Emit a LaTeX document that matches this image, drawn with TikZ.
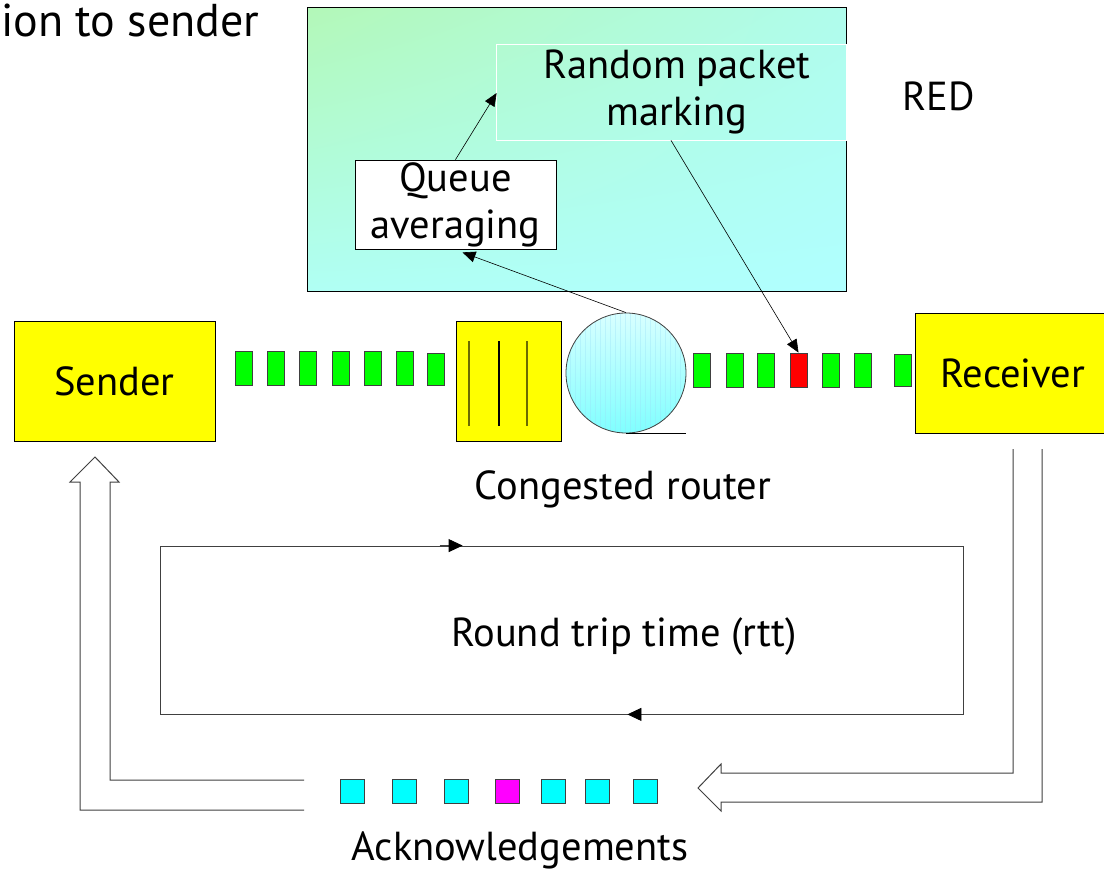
\documentclass[tikz,border=0pt]{standalone}
\usepackage{fontspec}
\setmainfont{PT Sans}
\usetikzlibrary{arrows.meta,calc,shadings}
\definecolor{pktgreen}{HTML}{00FF00}
\definecolor{pktred}{HTML}{FF0000}
\definecolor{ackcyan}{HTML}{00FFFF}
\definecolor{ackmag}{HTML}{FF00FF}
\definecolor{boxyellow}{HTML}{FFFF00}
\definecolor{redtl}{HTML}{B3F8B8}
\definecolor{redtr}{HTML}{B0FCEC}
\definecolor{redbl}{HTML}{B0FFF4}
\definecolor{redbr}{HTML}{B0FFFF}
\definecolor{edgegray}{HTML}{404040}
\definecolor{bufline}{HTML}{6B6B00}
\tikzset{
  big/.style={font=\fontsize{40.5}{47}\selectfont},
  ybox/.style={draw=black, fill=boxyellow, line width=0.8pt, inner sep=0pt},
  pkt/.style={draw=edgegray, line width=0.8pt, minimum width=17pt, minimum height=34pt, inner sep=0pt},
  ack/.style={draw=edgegray, line width=0.8pt, minimum width=24pt, minimum height=24pt, inner sep=0pt, fill=ackcyan},
  conn/.style={draw=black, line width=0.6pt, -{Triangle[length=13pt,width=11pt]}},
  tip/.style={draw=edgegray, line width=0.8pt, -{Triangle[length=14pt,width=13pt,color=black]}},
  hollow/.style={draw=edgegray, line width=1pt, line join=miter},
}
\begin{document}
\begin{tikzpicture}[x=1pt,y=-1pt]
\useasboundingbox (0,0) rectangle (1104,872);
\fill[white] (0,0) rectangle (1104,872);

% top-left title
\node[font=\fontsize{46}{52}\selectfont, anchor=base west, inner sep=0pt] (title) at (1,37) {ion to sender};

% RED box
\shade[upper left=redtl, upper right=redtr, lower left=redbl, lower right=redbr] (307,8) rectangle (846,291);
\node[draw=black, line width=1pt, minimum width=539pt, minimum height=283pt, inner sep=0pt] (redbox) at (576.5,149.5) {};
\node[draw=white, line width=0.8pt, minimum width=350pt, minimum height=96pt, inner sep=0pt, align=center, big] (rpm) at (671,92) {\hspace*{12pt}Random packet\\\hspace*{12pt}marking};
\node[big] (redlbl) at (939,96) {RED};
\node[draw=black, fill=white, line width=0.8pt, minimum width=201pt, minimum height=89pt, inner sep=0pt, align=center, big] (qa) at (455.5,204.5) {Queue\\averaging};

% Sender / Receiver
\node[ybox, minimum width=201pt, minimum height=120pt, big] (sender) at (114.5,381) {Sender};
\node[ybox, minimum width=190pt, minimum height=120pt, big] (receiver) at (1010,373) {\hspace*{6pt}Receiver};

% buffer
\node[ybox, minimum width=105pt, minimum height=120pt] (buf) at (508.5,381) {};
\draw[bufline, line width=1.2pt] (469,341) -- (469,426);
\draw[black, line width=1.2pt] (499,341) -- (499,426);
\draw[bufline, line width=1.2pt] (527,341) -- (527,426);

% router circle
\begin{scope}
  \clip (626,373) circle (60);
  \shade[top color=white!85!cyan, bottom color=cyan!50!white] (566,313) rectangle (686,433);
  \draw[cyan!40!white, opacity=0.35, line width=0.25pt, step=5] (566,313) grid (686,433);
\end{scope}
\node[draw=edgegray, circle, line width=0.8pt, minimum size=120pt, inner sep=0pt] (router) at (626,373) {};
\draw[black, line width=0.8pt] (router.south) -- ++(60,0) coordinate (tang);

% left packets
\node[pkt, fill=pktgreen] (p1) at (243.5,368) {};
\node[pkt, fill=pktgreen] (p2) at (276,368) {};
\node[pkt, fill=pktgreen] (p3) at (308,368) {};
\node[pkt, fill=pktgreen] (p4) at (340.5,368) {};
\node[pkt, fill=pktgreen] (p5) at (372.5,368) {};
\node[pkt, fill=pktgreen] (p6) at (404.5,368) {};
\node[pkt, fill=pktgreen, minimum height=32pt] (p7) at (436,369) {};
% right packets
\node[pkt, fill=pktgreen] (q1) at (701.5,370) {};
\node[pkt, fill=pktgreen] (q2) at (734.5,370) {};
\node[pkt, fill=pktgreen] (q3) at (766,370) {};
\node[pkt, fill=pktred] (q4) at (798.5,370) {};
\node[pkt, fill=pktgreen] (q5) at (830.5,370) {};
\node[pkt, fill=pktgreen] (q6) at (862.5,370) {};
\node[pkt, fill=pktgreen, minimum height=32pt] (q7) at (902.5,370) {};

% connectors in RED
\draw[conn] (qa.north) -- ($(rpm.west)+(1,1)$);
\draw[conn] (router.north) -- ($(qa.south)+(7,3)$);
\draw[conn] (rpm.south) -- (q4.north);

\node[big] (cr) at (623,489) {Congested router};

% RTT box
\node[draw=edgegray, line width=0.8pt, minimum width=803pt, minimum height=168pt, inner sep=0pt] (rtt) at (561.5,630) {};
\draw[tip] ($(rtt.north west)+(280,0)$) -- ($(rtt.north west)+(303,0)$);
\draw[tip] ($(rtt.south east)+(-310,0)$) -- ($(rtt.south east)+(-336,0)$);
\node[big] (rttlbl) at (624,637) {Round trip time (rtt)};

% acknowledgements
\node[ack] (a1) at (352,791) {};
\node[ack] (a2) at (404.5,791) {};
\node[ack] (a3) at (456.5,791) {};
\node[ack, fill=ackmag] (a4) at (507,791) {};
\node[ack] (a5) at (553,791) {};
\node[ack] (a6) at (597,791) {};
\node[ack] (a7) at (645.5,791) {};
\node[big] (acklbl) at (520,850) {Acknowledgements};

% hollow arrows
\coordinate (lend) at (304,795);
\draw[hollow] (lend |- 0,780) -- (110,780) -- (110,482) -- (119,482) -- (95,457) -- (70,482) -- (80,482) -- (80,810) -- (lend |- 0,810);
\draw[hollow] (1013,449) -- (1013,773) -- (721,773) -- (721,764) -- (698,788) -- (721,811) -- (721,802) -- (1042,802) -- (1042,449);
\end{tikzpicture}
\end{document}
